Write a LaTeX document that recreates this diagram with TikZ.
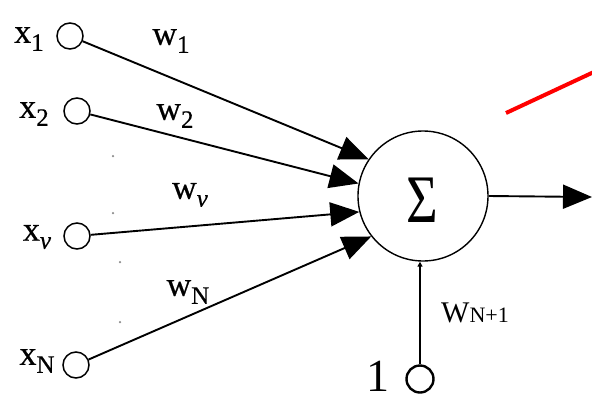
\documentclass[tikz,border=0pt]{standalone}
\usepackage{fontspec}
\setmainfont{Liberation Serif}
\newfontfamily\labfont[FakeBold=0.5]{Liberation Serif}
\usetikzlibrary{arrows.meta}
\newcommand{\lab}[2]{{\labfont\fontsize{34}{34}\selectfont #1}{\labfont\fontsize{25}{25}\selectfont\raisebox{-8pt}{#2}}}
\tikzset{
  inp/.style={circle,draw,line width=1.5pt,minimum size=26pt,inner sep=0pt},
  sumnode/.style={circle,draw,line width=1.4pt,minimum size=130pt,inner sep=0pt},
  wire/.style={line width=1.9pt,-{Triangle[length=29pt,width=24pt]}},
  txt/.style={inner sep=0pt,font=\fontsize{29}{29}\selectfont},
  speck/.style={fill=black!45,circle,inner sep=0pt,minimum size=2.5pt}
}
\begin{document}
\begin{tikzpicture}[x=1pt,y=-1pt]
\useasboundingbox (0,0) rectangle (592,400);
\node[sumnode] (s) at (423,196) {};
\node[txt,font=\fontsize{68}{68}\selectfont] (sig) at (422,200) {\scalebox{0.8}[1]{Σ}};
\node[inp] (x1) at (70,36) {};
\node[inp] (x2) at (77,111) {};
\node[inp] (xv) at (77,236) {};
\node[inp] (xN) at (76,365) {};
\node[inp,line width=2.4pt,minimum size=27pt] (b) at (420,379) {};
\node[txt] (lx1) at (29,39) {\lab{x}{1}};
\node[txt] (lx2) at (34,114) {\lab{x}{2}};
\node[txt] (lxv) at (37,237) {\lab{x}{\textit{v}}};
\node[txt] (lxN) at (37,361) {\lab{x}{N}};
\node[txt] (lw1) at (171,41) {\lab{w}{1}};
\node[txt] (lw2) at (175,116) {\lab{w}{2}};
\node[txt] (lwv) at (190,195) {\lab{w}{\textit{v}}};
\node[txt] (lwN) at (188,292) {\lab{w}{N}};
\node[txt] (lwb) at (475,313) {{\fontsize{30}{30}\selectfont W}{\fontsize{22}{22}\selectfont N+1}};
\node[txt,font=\fontsize{46}{46}\selectfont] (one) at (378,376) {1};
\draw[wire] (x1) -- (s.146);
\draw[wire] (x2) -- (s.169);
\draw[wire] (xv) -- (s.194);
\draw[wire] (xN) -- (s.218);
\coordinate (out) at (592,197);
\draw[wire] (s.east) -- (out);
\draw[line width=2pt,-{Triangle[length=5pt,width=5pt]}] (b) -- (b |- s.south);
\coordinate (r1) at (506,113);
\coordinate (r2) at (596,71);
\draw[red,line width=4pt] (r1) -- (r2);
\node[speck] (d1) at (113,156) {};
\node[speck] (d2) at (113,213) {};
\node[speck] (d3) at (120,262) {};
\node[speck] (d4) at (120,322) {};
\end{tikzpicture}
\end{document}
